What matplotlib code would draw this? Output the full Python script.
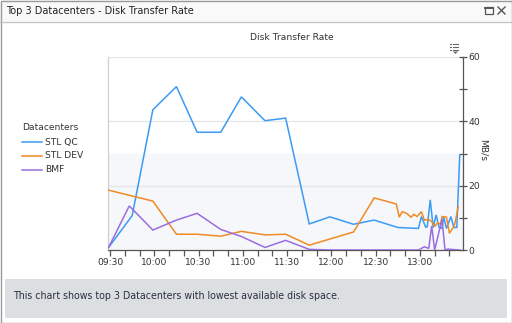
import matplotlib.pyplot as plt
from matplotlib.patches import Rectangle, Polygon
from matplotlib.lines import Line2D

W, H = 512, 323

# series data (time of sample, MB/s)
qc_times = ["09:29", "09:45", "09:59", "10:15", "10:29", "10:45", "10:59", "11:15",
            "11:29", "11:45", "11:59", "12:15", "12:29", "12:45", "12:59", "13:01",
            "13:04", "13:05", "13:07", "13:09", "13:11", "13:13", "13:15", "13:16",
            "13:18", "13:21", "13:23", "13:25", "13:27"]
qc_values = [0.8, 10.7, 43.6, 50.8, 36.6, 36.6, 47.6, 40.2,
             41.0, 8.1, 10.3, 8.0, 9.3, 7.0, 6.7, 10.4,
             7.0, 7.3, 15.6, 7.0, 10.9, 7.0, 6.7, 10.4,
             6.7, 10.4, 7.0, 7.0, 29.6]

dev_times = ["09:29", "09:59", "10:15", "10:29", "10:45", "10:59", "11:15", "11:29",
             "11:45", "12:15", "12:29", "12:44", "12:46", "12:48", "12:51", "12:54",
             "12:56", "12:58", "13:01", "13:03", "13:06", "13:08", "13:10", "13:12",
             "13:14", "13:15", "13:18", "13:20", "13:23", "13:24", "13:26"]
dev_values = [18.6, 15.2, 4.9, 4.9, 4.3, 5.8, 4.7, 4.9,
              1.5, 5.6, 16.2, 14.3, 10.2, 11.9, 11.4, 10.2,
              11.1, 10.4, 11.9, 9.3, 9.5, 8.8, 7.3, 8.5,
              8.0, 10.4, 10.2, 5.2, 7.3, 8.8, 13.5]

bmf_times = ["09:29", "09:43", "09:59", "10:15", "10:29", "10:45", "10:59", "11:15",
             "11:29", "11:45", "11:59", "12:15", "12:29", "12:45", "12:59", "13:03",
             "13:06", "13:08", "13:10", "13:15", "13:17", "13:19", "13:21", "13:27"]
bmf_values = [0.8, 13.7, 6.2, 9.3, 11.4, 6.4, 4.2, 0.8,
              3.0, 0.2, 0.0, 0.0, 0.0, 0.0, 0.0, 1.0,
              0.5, 7.5, 0.0, 9.6, 0.0, 0.3, 0.2, 0.0]

series_names = ["STL QC", "STL DEV", "BMF"]
series_colors = ["#3b9bf4", "#f08a24", "#9a6ddf"]

tick_labels = ["09:30", "10:00", "10:30", "11:00", "11:30", "12:00", "12:30", "13:00"]
y_major = [0, 20, 40, 60]
y_minor = [10, 30, 50]


def to_min(t):
    h, m = t.split(":")
    return int(h) * 60 + int(m)


def fx(x):
    return x / W


def fy(y):
    return 1 - y / H


plt.rcParams['font.family'] = ['DejaVu Sans']

fig = plt.figure(figsize=(W / 100, H / 100), dpi=100)
fig.patch.set_facecolor('white')

# window chrome
fig.add_artist(Rectangle((0, fy(21)), 1, 21 / H, transform=fig.transFigure,
                         facecolor='#f9f9f9', edgecolor='none'))
fig.add_artist(Line2D([0, 1], [fy(21.5), fy(21.5)], transform=fig.transFigure,
                      color='#c4c4c4', lw=1))
fig.add_artist(Rectangle((fx(0.5), fy(322.5)), fx(511), 322 / H, transform=fig.transFigure,
                         facecolor='none', edgecolor='#9a9a9a', lw=1))
fig.text(fx(6), fy(11), "Top 3 Datacenters - Disk Transfer Rate", fontsize=7.0,
         color='#222222', va='center', ha='left')

# maximize / close icons
fig.add_artist(Rectangle((fx(485), fy(14)), fx(8), 7 / H, transform=fig.transFigure,
                         facecolor='none', edgecolor='#555555', lw=0.9))
fig.add_artist(Line2D([fx(485), fx(493)], [fy(8), fy(8)], transform=fig.transFigure,
                      color='#555555', lw=1.4))
fig.add_artist(Line2D([fx(498), fx(505)], [fy(7), fy(14)], transform=fig.transFigure,
                      color='#555555', lw=1))
fig.add_artist(Line2D([fx(498), fx(505)], [fy(14), fy(7)], transform=fig.transFigure,
                      color='#555555', lw=1))

# footer
fig.add_artist(Rectangle((fx(5), fy(318)), fx(502), 39 / H, transform=fig.transFigure,
                         facecolor='#dcdfe2', edgecolor='none'))
fig.text(fx(13), fy(296), "This chart shows top 3 Datacenters with lowest available disk space.",
         fontsize=6.85, color='#2a3040', va='center', ha='left')

# chart title
fig.text(fx(292), fy(38), "Disk Transfer Rate", fontsize=6.6, color='#333333',
         va='center', ha='center')

# menu icon
for yy in [44, 47, 50]:
    fig.add_artist(Line2D([fx(450), fx(451)], [fy(yy), fy(yy)], transform=fig.transFigure,
                          color='#666666', lw=0.8))
    fig.add_artist(Line2D([fx(453), fx(458)], [fy(yy), fy(yy)], transform=fig.transFigure,
                          color='#666666', lw=0.8))
fig.add_artist(Polygon([[fx(453), fy(51.5)], [fx(458), fy(51.5)], [fx(455.5), fy(54)]],
                       closed=True, transform=fig.transFigure, facecolor='#666666',
                       edgecolor='none'))

# plot area
ax = fig.add_axes([fx(108), fy(250), fx(354.7), 193 / H])
ax.set_facecolor('white')
ax.axhspan(0, 30, color='#f6f7fa', zorder=0)
for v in [20, 40, 60]:
    ax.axhline(v, color='#e6e6e6', lw=0.9, zorder=1)

all_times = [qc_times, dev_times, bmf_times]
all_values = [qc_values, dev_values, bmf_values]
for times, values, color in zip(all_times, all_values, series_colors):
    ax.plot([to_min(t) for t in times], values, color=color, lw=1.1, zorder=3,
            solid_joinstyle='miter')

ax.set_xlim(568.6, 809)
ax.set_ylim(0, 60)

ax.set_xticks([to_min(t) for t in tick_labels])
ax.set_xticklabels(tick_labels)
ax.set_xticks(range(to_min("09:30"), 810, 10), minor=True)
ax.tick_params(axis='x', which='both', direction='out', length=4, width=0.9,
               color='#555555', labelsize=6.6, labelcolor='#333333', pad=2)

ax.yaxis.tick_right()
ax.set_yticks(y_major)
ax.set_yticks(y_minor, minor=True)
ax.tick_params(axis='y', which='both', direction='inout', length=6, width=0.9,
               color='#555555', labelsize=6.6, labelcolor='#333333', pad=1)

ax.spines['top'].set_visible(False)
ax.spines['left'].set_color('#d0d0d0')
ax.spines['bottom'].set_color('#555555')
ax.spines['right'].set_color('#555555')
for s in ['left', 'bottom', 'right']:
    ax.spines[s].set_linewidth(0.9)

fig.text(fx(483), fy(150), "MB/s", fontsize=6.6, color='#333333', rotation=-90,
         va='center', ha='center')

# legend
fig.text(fx(22), fy(128), "Datacenters", fontsize=6.6, color='#333333', va='center')
for i, (name, color) in enumerate(zip(series_names, series_colors)):
    yy = 142 + 14 * i
    fig.add_artist(Line2D([fx(22), fx(42)], [fy(yy), fy(yy)], transform=fig.transFigure,
                          color=color, lw=1.1))
    fig.text(fx(45), fy(yy), name, fontsize=6.6, color='#333333', va='center')

fig.savefig("out.png", dpi=100)
